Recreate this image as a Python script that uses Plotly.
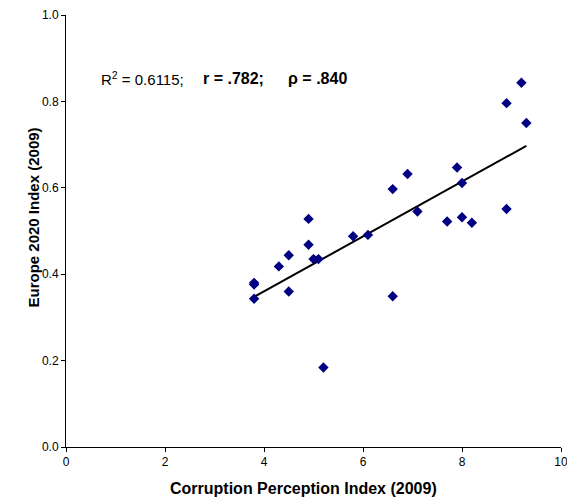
import numpy as np
import plotly.graph_objects as go

cpi = [9.2, 8.9, 9.3, 7.9, 6.9, 6.6, 8.0, 7.1, 8.9, 7.7, 8.0, 8.2, 4.9, 5.8, 6.1,
       4.9, 4.5, 5.0, 5.1, 4.3, 3.8, 3.8, 3.8, 4.5, 6.6, 5.2]
eu2020 = [0.843, 0.796, 0.750, 0.647, 0.632, 0.597, 0.611, 0.545, 0.551, 0.522, 0.532,
          0.519, 0.528, 0.488, 0.491, 0.468, 0.444, 0.435, 0.435, 0.418, 0.380, 0.376,
          0.343, 0.360, 0.349, 0.184]
x_ticks = [0, 2, 4, 6, 8, 10]
y_ticks = [0.0, 0.2, 0.4, 0.6, 0.8, 1.0]
y_tick_labels = ["0.0", "0.2", "0.4", "0.6", "0.8", "1.0"]
stats_text = ["R<sup>2</sup> = 0.6115;", "<b>r = .782;</b>", "<b>ρ = .840</b>"]
stats_x = [0.66, 2.72, 4.44]
stats_size = [15, 16, 16]

slope, intercept = np.polyfit(cpi, eu2020, 1)
xl = [min(cpi), max(cpi)]
yl = [intercept + slope * v for v in xl]

fig = go.Figure()
fig.add_trace(go.Scatter(x=xl, y=yl, mode="lines",
                         line=dict(color="black", width=2), hoverinfo="skip"))
fig.add_trace(go.Scatter(x=cpi, y=eu2020, mode="markers",
                         marker=dict(symbol="diamond", size=8, color="#000080")))

font = "Liberation Sans, Arial, sans-serif"
annotations = [dict(x=sx, y=0.853, xref="x", yref="y", xanchor="left", yanchor="middle",
                    showarrow=False, text=t, font=dict(size=s, family=font))
               for t, sx, s in zip(stats_text, stats_x, stats_size)]
annotations.append(dict(x=-0.066, y=0.532, xref="paper", yref="paper",
                        xanchor="center", yanchor="middle", textangle=-90, showarrow=False,
                        text="<b>Europe 2020 Index (2009)</b>", font=dict(size=15, family=font)))
annotations.append(dict(x=0.479, y=-0.095, xref="paper", yref="paper",
                        xanchor="center", yanchor="middle", showarrow=False,
                        text="<b>Corruption Perception Index (2009)</b>", font=dict(size=16, family=font)))

fig.update_layout(
    width=567, height=502,
    margin=dict(l=66, r=6, t=15, b=55),
    paper_bgcolor="white", plot_bgcolor="white",
    showlegend=False,
    font=dict(family=font, size=12, color="black"),
    xaxis=dict(range=[0, 10], tickvals=x_ticks, showgrid=False, zeroline=False,
               showline=True, linecolor="black", linewidth=1,
               ticks="outside", ticklen=4, tickcolor="black",
               ticklabeloverflow="allow", automargin=False),
    yaxis=dict(range=[0, 1.0], tickvals=y_ticks, ticktext=y_tick_labels,
               showgrid=False, zeroline=False,
               showline=True, linecolor="black", linewidth=1,
               ticks="outside", ticklen=4, tickcolor="black",
               ticklabeloverflow="allow", automargin=False),
    annotations=annotations,
)
fig.write_html("out.html")
